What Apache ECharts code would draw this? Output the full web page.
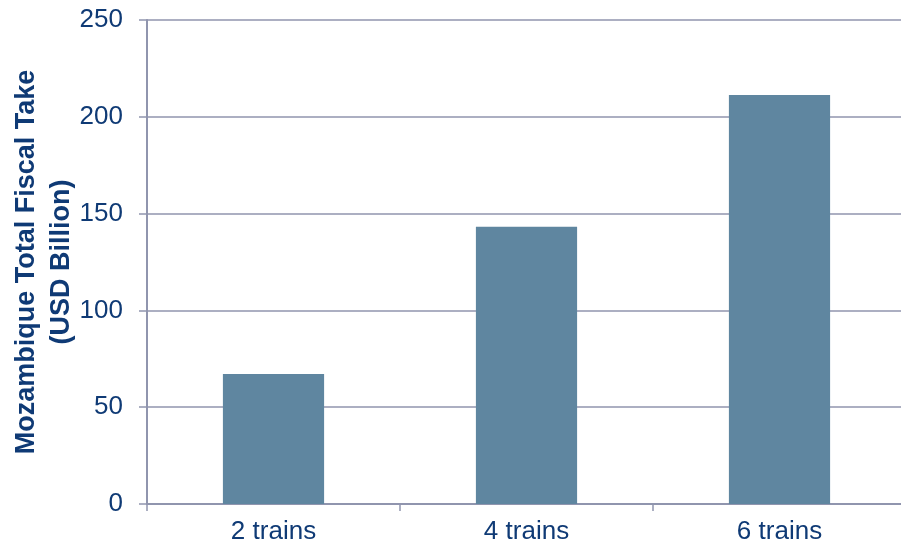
<!DOCTYPE html>
<html><head><meta charset="utf-8">
<script src="https://cdn.jsdelivr.net/npm/echarts@6/dist/echarts.min.js"></script>
<style>html,body{margin:0;padding:0;background:#fff}#c{width:901px;height:546px}</style>
</head><body><div id="c"></div>
<script>
const categories = ['2 trains', '4 trains', '6 trains'];
const fiscalTake = [67.1, 143.2, 211.3];
const yTicks = [0, 50, 100, 150, 200, 250];
const yTitle = 'Mozambique Total Fiscal Take\n(USD Billion)';

const txt = '#0f3a75', gridC = '#9095ae';
const chart = echarts.init(document.getElementById('c'), null, {renderer: 'canvas'});
chart.setOption({
  animation: false,
  grid: {left: 147, right: -5, top: 20, bottom: 42, containLabel: false, outerBoundsMode: 'none'},
  xAxis: {
    type: 'category', data: categories,
    axisLine: {lineStyle: {color: gridC, width: 2}},
    axisTick: {show: true, length: 7, lineStyle: {color: gridC, width: 1.5}, alignWithLabel: false},
    axisLabel: {color: txt, fontSize: 26, fontFamily: 'Liberation Sans, Arial', margin: 15}
  },
  yAxis: {
    type: 'value', min: yTicks[0], max: yTicks[yTicks.length-1], interval: 50,
    name: yTitle, nameLocation: 'middle', nameGap: 68, nameRotate: 90, nameMoveOverlap: false,
    nameTextStyle: {color: txt, fontSize: 27, fontWeight: 'bold', fontFamily: 'Liberation Sans, Arial', lineHeight: 35, align: 'center'},
    axisLine: {show: true, lineStyle: {color: gridC, width: 2}},
    axisTick: {show: true, length: 8, lineStyle: {color: gridC, width: 1.5}},
    splitLine: {lineStyle: {color: gridC, width: 1.5}},
    axisLabel: {color: txt, fontSize: 26, fontFamily: 'Liberation Sans, Arial', margin: 24}
  },
  series: [{
    type: 'bar', data: fiscalTake, barWidth: '40%',
    itemStyle: {color: '#5f86a0'}
  }]
});
</script></body></html>
